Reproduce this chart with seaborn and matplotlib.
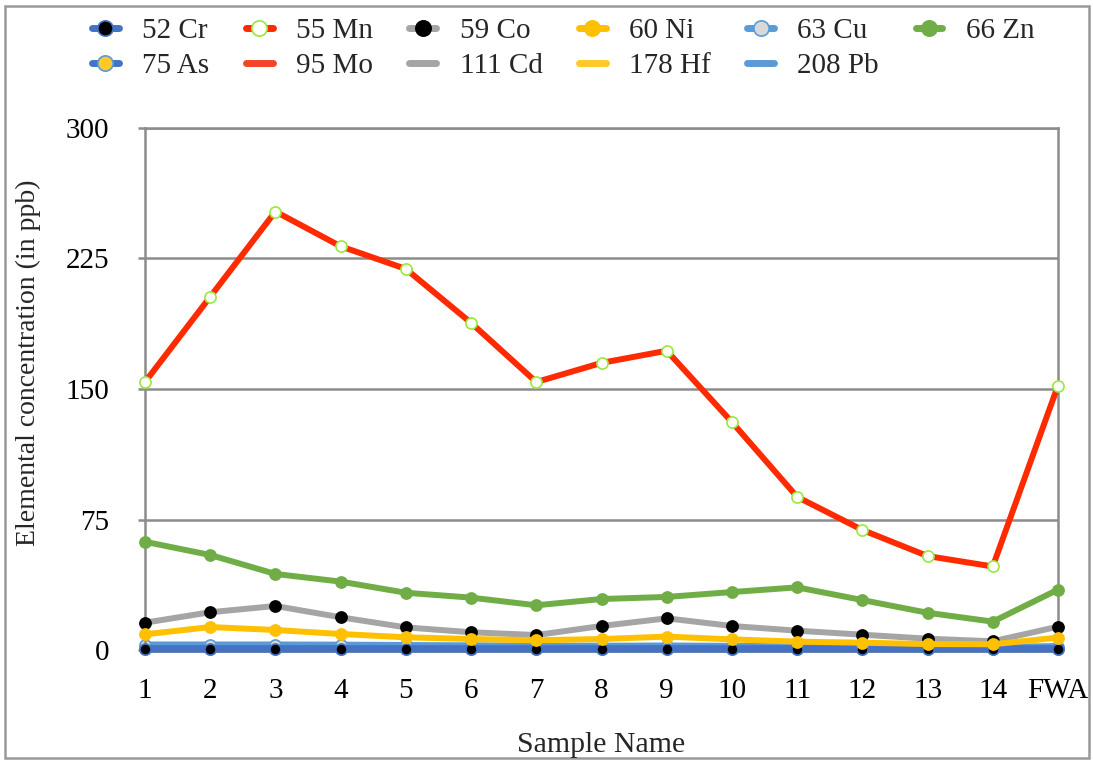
import numpy as np
import pandas as pd
import matplotlib
matplotlib.use("Agg")
import matplotlib.pyplot as plt
from matplotlib.lines import Line2D
from matplotlib.patches import Rectangle
import seaborn as sns

# Sample labels along the x axis
samples = ["1", "2", "3", "4", "5", "6", "7", "8", "9", "10", "11", "12", "13", "14", "FWA"]

# Elemental concentrations (ppb) per sample
cr52 = [0.5, 0.5, 0.5, 0.5, 0.5, 0.5, 0.5, 0.5, 0.5, 0.5, 0.5, 0.5, 0.5, 0.5, 0.5]
mn55 = [154, 203, 252, 232, 219, 188, 154, 165, 172, 131, 88, 69, 54, 48, 152]
co59 = [15.7, 21.7, 25.3, 18.8, 13.0, 10.2, 8.6, 13.8, 18.2, 13.8, 11.1, 8.8, 6.5, 5.0, 13.4]
ni60 = [9.0, 13.2, 11.5, 9.2, 7.3, 6.3, 5.6, 6.3, 7.7, 6.1, 4.8, 4.2, 3.4, 3.3, 7.1]
cu63 = [2.9, 2.9, 2.9, 2.8, 2.6, 2.4, 2.2, 2.2, 2.3, 2.1, 1.9, 1.7, 1.5, 1.4, 2.0]
zn66 = [62.2, 54.6, 43.7, 39.3, 32.9, 30.1, 25.7, 29.3, 30.5, 33.3, 36.0, 28.7, 21.4, 16.3, 34.7]
as75 = [0.4, 0.4, 0.4, 0.4, 0.4, 0.4, 0.4, 0.4, 0.4, 0.4, 0.4, 0.4, 0.4, 0.4, 0.4]
mo95 = [0.3, 0.3, 0.3, 0.3, 0.3, 0.3, 0.3, 0.3, 0.3, 0.3, 0.3, 0.3, 0.3, 0.3, 0.3]
cd111 = [0.2, 0.2, 0.2, 0.2, 0.2, 0.2, 0.2, 0.2, 0.2, 0.2, 0.2, 0.2, 0.2, 0.2, 0.2]
hf178 = [0.1, 0.1, 0.1, 0.1, 0.1, 0.1, 0.1, 0.1, 0.1, 0.1, 0.1, 0.1, 0.1, 0.1, 0.1]
pb208 = [1.2, 1.2, 1.2, 1.2, 1.2, 1.1, 1.1, 1.1, 1.1, 1.1, 1.0, 1.0, 1.0, 1.0, 1.1]

y_ticks = [0, 75, 150, 225, 300]

BLUE = "#4472C4"
LBLUE = "#5B9BD5"
RED = "#FF2A00"
RED2 = "#F4432A"
GRAY = "#A5A5A5"
YELLOW = "#FFC000"
YELLOW2 = "#FFCA28"
GREEN = "#70AD47"
LGREEN = "#99E83A"
GRID = "#8C8C8C"

# name, values, line colour, line width, marker face, marker edge, zorder
series = [
    ("95 Mo", mo95, RED2, 4.0, None, None, 2.0),
    ("111 Cd", cd111, GRAY, 4.0, None, None, 2.1),
    ("178 Hf", hf178, YELLOW2, 4.0, None, None, 2.2),
    ("75 As", as75, BLUE, 4.0, YELLOW2, LBLUE, 2.3),
    ("208 Pb", pb208, LBLUE, 5.0, None, None, 2.4),
    ("63 Cu", cu63, LBLUE, 5.0, "#D9D9D9", LBLUE, 2.5),
    ("52 Cr", cr52, BLUE, 5.5, "black", BLUE, 2.6),
    ("59 Co", co59, GRAY, 4.3, "black", "black", 2.7),
    ("60 Ni", ni60, YELLOW, 4.3, YELLOW, YELLOW, 2.8),
    ("66 Zn", zn66, GREEN, 4.3, GREEN, GREEN, 2.9),
    ("55 Mn", mn55, RED, 4.3, "white", LGREEN, 3.0),
]

sns.set_theme(style="white")
plt.rcParams["font.family"] = ["Liberation Serif", "DejaVu Serif"]

fig = plt.figure(figsize=(10.93, 7.60), dpi=100)
ax = fig.add_axes([145 / 1093, 1 - 650 / 760, (1058 - 145) / 1093, (650 - 128) / 760])

pos = np.arange(len(samples))
for name, vals, lc, lw, mfc, mec, z in series:
    df = pd.DataFrame({"pos": pos, "value": vals})
    kw = dict(color=lc, linewidth=lw, zorder=z, clip_on=False)
    if mfc is not None:
        kw.update(marker="o", markersize=8, markerfacecolor=mfc,
                  markeredgecolor=mec, markeredgewidth=1.2)
    sns.lineplot(data=df, x="pos", y="value", ax=ax, legend=False, sort=False, **kw)

ax.set_xlim(0, len(samples) - 1)
ax.set_ylim(0, 300)
ax.set_xticks(pos)
ax.set_xticklabels(samples)
ax.set_yticks(y_ticks)
ax.set_xlabel("")
ax.set_ylabel("")
ax.yaxis.grid(True, color=GRID, linewidth=1.8)
ax.xaxis.grid(False)
ax.set_axisbelow(True)
for side in ["left", "right", "top", "bottom"]:
    ax.spines[side].set_visible(True)
    ax.spines[side].set_color(GRID)
    ax.spines[side].set_linewidth(1.8)
ax.tick_params(axis="y", which="major", left=True, length=5, width=1.8,
               color=GRID, pad=21, labelsize=21, labelcolor="black")
ax.tick_params(axis="x", which="major", bottom=False, length=0, pad=20,
               labelsize=21, labelcolor="black")

fig.text(28 / 1093, 1 - 363 / 760, "Elemental concentration (in ppb)",
         rotation=90, ha="center", va="center", fontsize=20)
fig.text(601 / 1093, 1 - 745 / 760, "Sample Name", ha="center", va="center",
         fontsize=21.5)

# Legend handles, laid out in two rows of six
def handle(lc, mfc=None, mec=None):
    if mfc is None:
        return Line2D([0], [0], color=lc, linewidth=5)
    return Line2D([0], [0], color=lc, linewidth=5, marker="o", markersize=11,
                  markerfacecolor=mfc, markeredgecolor=mec, markeredgewidth=1.2)

legend_items = [
    ("52 Cr", handle(BLUE, "black", BLUE)),
    ("55 Mn", handle(RED, "white", LGREEN)),
    ("59 Co", handle(GRAY, "black", "black")),
    ("60 Ni", handle(YELLOW, YELLOW, YELLOW)),
    ("63 Cu", handle(LBLUE, "#D9D9D9", LBLUE)),
    ("66 Zn", handle(GREEN, GREEN, GREEN)),
    ("75 As", handle(BLUE, YELLOW2, LBLUE)),
    ("95 Mo", handle(RED2)),
    ("111 Cd", handle(GRAY)),
    ("178 Hf", handle(YELLOW2)),
    ("208 Pb", handle(LBLUE)),
]
order = [0, 6, 1, 7, 2, 8, 3, 9, 4, 10, 5]
fig.legend([legend_items[i][1] for i in order], [legend_items[i][0] for i in order],
           ncol=6, loc="upper left", bbox_to_anchor=(92 / 1093, 1 - 18 / 760),
           frameon=False, fontsize=21, handlelength=0.92, handletextpad=0.8,
           columnspacing=1.25, labelspacing=0.28, borderpad=0, borderaxespad=0)

# Outer frame around the whole chart
fig.patches.append(Rectangle((5 / 1093, 2 / 760), (1089 - 5) / 1093, 752 / 760,
                             transform=fig.transFigure, fill=False,
                             edgecolor="#999999", linewidth=1.8))

fig.savefig("out.png", dpi=100, facecolor="white")
